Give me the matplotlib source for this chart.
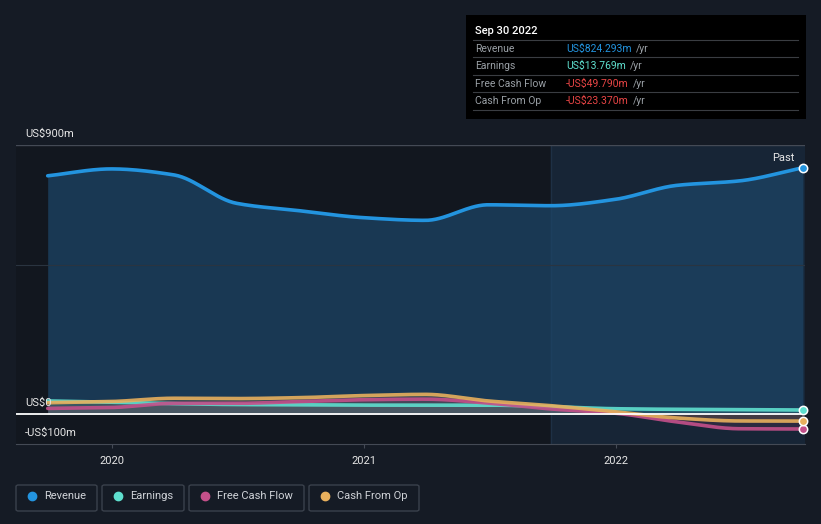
import numpy as np
import pandas as pd
import matplotlib
matplotlib.use("Agg")
import matplotlib.pyplot as plt
import matplotlib.dates as mdates
from matplotlib.patches import Rectangle, FancyBboxPatch
from matplotlib.lines import Line2D

plt.rcParams['font.family'] = ['Roboto', 'DejaVu Sans']

# quarterly trailing twelve month values, US$m
dates = pd.to_datetime(['2019-09-30', '2019-12-31', '2020-03-31', '2020-06-30', '2020-09-30',
                        '2020-12-31', '2021-03-31', '2021-06-30', '2021-09-30', '2021-12-31',
                        '2022-03-31', '2022-06-30', '2022-09-30'])
revenue = [797, 820, 800, 705, 680, 657, 648, 700, 697, 718, 765, 780, 824.293]
earnings = [44, 40, 35, 32, 31, 30, 30, 30, 25, 18, 16, 15, 13.769]
free_cash_flow = [19, 22, 36, 36, 42, 48, 50, 37, 17, 3, -26, -49, -49.79]
cash_from_op = [38, 42, 53, 52, 55, 62, 66, 44, 28, 8, -13, -23, -23.37]

series = [
    ("Revenue", revenue, "#2394df"),
    ("Earnings", earnings, "#5fe0cf"),
    ("Free Cash Flow", free_cash_flow, "#c4508a"),
    ("Cash From Op", cash_from_op, "#e8b05d"),
]
tooltip_vals = ["US$824.293m", "US$13.769m", "-US$49.790m", "-US$23.370m"]
tooltip_cols = ["#2394df", "#5fe0cf", "#e84545", "#e84545"]

BG = "#151b25"


def pchip(x, y, n=400):
    # monotone cubic for smooth line drawing
    x = np.asarray(x, float)
    y = np.asarray(y, float)
    h = np.diff(x)
    d = np.diff(y) / h
    m = np.zeros_like(y)
    for k in range(1, len(y) - 1):
        if d[k - 1] * d[k] > 0:
            w1 = 2 * h[k] + h[k - 1]
            w2 = h[k] + 2 * h[k - 1]
            m[k] = (w1 + w2) / (w1 / d[k - 1] + w2 / d[k])
    m[0] = d[0]
    m[-1] = d[-1]
    xs = np.linspace(x[0], x[-1], n)
    idx = np.clip(np.searchsorted(x, xs) - 1, 0, len(x) - 2)
    t = (xs - x[idx]) / h[idx]
    h00 = 2 * t ** 3 - 3 * t ** 2 + 1
    h10 = t ** 3 - 2 * t ** 2 + t
    h01 = -2 * t ** 3 + 3 * t ** 2
    h11 = t ** 3 - t ** 2
    ys = h00 * y[idx] + h10 * h[idx] * m[idx] + h01 * y[idx + 1] + h11 * h[idx] * m[idx + 1]
    return xs, ys


W, H = 821, 524
fig = plt.figure(figsize=(W / 100, H / 100), dpi=100, facecolor=BG)
ax = fig.add_axes([16 / W, (H - 444) / H, (805 - 16) / W, (444 - 145) / H])
ax.set_facecolor("#12171f")

xnum = mdates.date2num(dates)
x0 = mdates.date2num(pd.Timestamp('2019-08-15'))
x1 = mdates.date2num(pd.Timestamp('2022-10-03'))
ax.set_xlim(x0, x1)
ax.set_ylim(-100, 900)

# past region shading
past_start = mdates.date2num(pd.Timestamp('2021-09-30'))
ax.axvspan(past_start, x1, color="#172536", zorder=0)
ax.axvline(past_start, color="#1e3045", lw=1, zorder=0.5)

for name, vals, col in series:
    xs, ys = pchip(xnum, vals)
    if name == "Revenue":
        ax.fill_between(xs, 0, ys, color="#1d4668", alpha=0.72, lw=0, zorder=1)
        ax.plot(xs, ys, color=col, lw=2.6, zorder=4, solid_capstyle='round')
    else:
        ax.fill_between(xs, 0, ys, color=col, alpha=0.12, lw=0, zorder=2)
        ax.plot(xs, ys, color=col, lw=2.6, zorder=3, alpha=0.9, solid_capstyle='round')
    ax.scatter([xnum[-1]], [vals[-1]], s=36, color=col, edgecolor="white", linewidth=1.1, zorder=6,
               clip_on=False)

# grid / zero lines
ax.axhline(900, color="#444a55", lw=1, zorder=0.6)
ax.axhline(500, color="#2a3440", lw=0.8, zorder=1.5)
ax.axhline(0, color="white", lw=1.3, zorder=5)

for sp in ["top", "right", "left"]:
    ax.spines[sp].set_visible(False)
ax.spines["bottom"].set_color("#444a55")
ax.set_yticks([])
ax.xaxis.set_major_locator(mdates.YearLocator())
ax.xaxis.set_major_formatter(mdates.DateFormatter('%Y'))
ax.tick_params(axis='x', colors="#444a55", labelcolor="#e6e6e6", labelsize=8, length=3, pad=6)

ylab_x = x0 + (x1 - x0) * 9 / 789
for val, txt in [(900, "US$900m"), (0, "US$0"), (-100, "-US$100m")]:
    ax.text(ylab_x, val + 20, txt, color="#e6e6e6", fontsize=8, va="bottom", ha="left", zorder=7)

ax.text(mdates.date2num(pd.Timestamp('2022-09-18')), 840, "Past", color="#e6e6e6", fontsize=8,
        ha="right", va="bottom", zorder=7)


def fx(px):
    return px / W


def fy(py):
    return 1 - py / H


# tooltip
fig.add_artist(Rectangle((fx(466), fy(119)), fx(806) - fx(466), fy(15) - fy(119),
                         transform=fig.transFigure, facecolor="black", edgecolor="none"))
fig.text(fx(475), fy(31), "Sep 30 2022", color="white", fontsize=8, va="center", fontweight="medium")
row_y = [49, 66, 84, 101]
for i, (name, _, _) in enumerate(series):
    yy = row_y[i]
    fig.add_artist(Line2D([fx(473), fx(798)], [fy(yy - 9), fy(yy - 9)], color="#3a3d42", lw=0.8,
                          transform=fig.transFigure))
    fig.text(fx(475), fy(yy), name, color="#9aa0a6", fontsize=7.5, va="center")
    t = fig.text(fx(566), fy(yy), tooltip_vals[i], color=tooltip_cols[i], fontsize=7.5, va="center")
    fig.canvas.draw()
    bb = t.get_window_extent()
    fig.text(bb.x1 / W + fx(4), fy(yy), "/yr", color="#9aa0a6", fontsize=7.5, va="center")
fig.add_artist(Line2D([fx(473), fx(798)], [fy(110), fy(110)], color="#3a3d42", lw=0.8,
                      transform=fig.transFigure))

# legend boxes
boxes = [(16, 97), (102, 184), (189, 304), (309, 419)]
for (l, r), (name, _, col) in zip(boxes, series):
    fig.add_artist(FancyBboxPatch((fx(l), fy(511)), fx(r) - fx(l), fy(485) - fy(511),
                                  boxstyle="round,pad=0,rounding_size=0.003",
                                  transform=fig.transFigure, facecolor="none", edgecolor="#3a414c", lw=1))
    fig.add_artist(Line2D([fx(l + 16)], [fy(496)], marker='o', markersize=6, color=col, lw=0,
                          transform=fig.transFigure))
    fig.text(fx(l + 28), fy(496), name, color="#d0d3d8", fontsize=8, va="center")

fig.savefig("out.png", dpi=100, facecolor=BG)
